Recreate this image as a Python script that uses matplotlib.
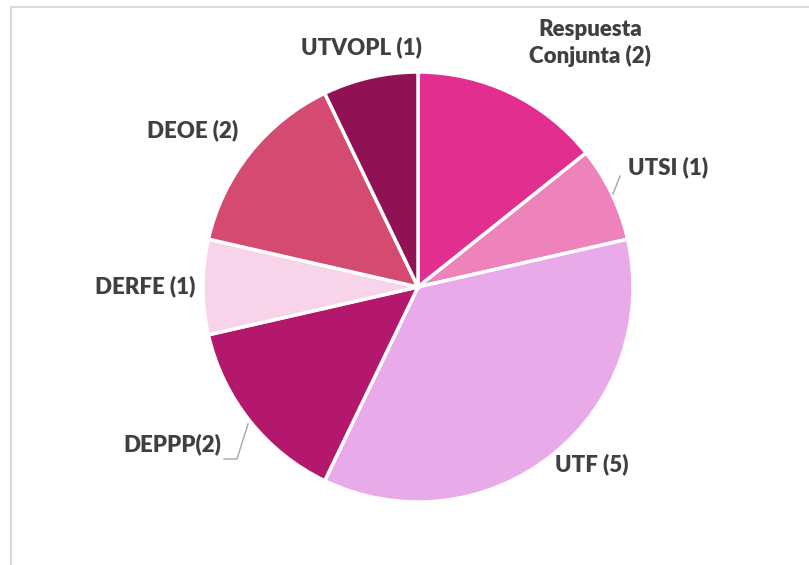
import matplotlib.pyplot as plt
from matplotlib.patches import Rectangle

labels = ['Respuesta\nConjunta (2)', 'UTSI (1)', 'UTF (5)', 'DEPPP(2)',
          'DERFE (1)', 'DEOE (2)', 'UTVOPL (1)']
values = [2, 1, 5, 2, 1, 2, 1]
colors = ['#E22F8F', '#EE82BB', '#E8AAE8', '#B3186D',
          '#F7D4E9', '#D44A71', '#911254']

# label centres in pixel coords (from top-left)
label_pos = [(590, 43), (668, 167), (592, 464), (172, 444),
             (145, 286), (193, 130), (361, 47)]

W, H = 809, 565
fig = plt.figure(figsize=(W / 100, H / 100), dpi=100)
ax = fig.add_axes([0, 0, 1, 1])

ax.pie(values, colors=colors, startangle=90, counterclock=False,
       center=(418, H - 287), radius=215,
       wedgeprops=dict(edgecolor='white', linewidth=2.5))

ax.set_xlim(0, W)
ax.set_ylim(0, H)
ax.set_aspect('equal')
ax.axis('off')

# chart frame
ax.add_patch(Rectangle((11, -10), W + 20, H - 7 + 10, fill=False,
                       edgecolor='#D9D9D9', linewidth=1.5))

for lab, (x, y) in zip(labels, label_pos):
    ax.text(x, H - y, lab, ha='center', va='center', fontsize=16,
            fontweight='heavy', color='#404040', family='Lato',
            linespacing=1.3)

# leader lines
ax.plot([620, 613], [H - 176, H - 194], color='#A6A6A6', lw=1)
ax.plot([224, 237, 248], [H - 459, H - 459, H - 424], color='#A6A6A6', lw=1)

fig.savefig('out.png', dpi=100)
